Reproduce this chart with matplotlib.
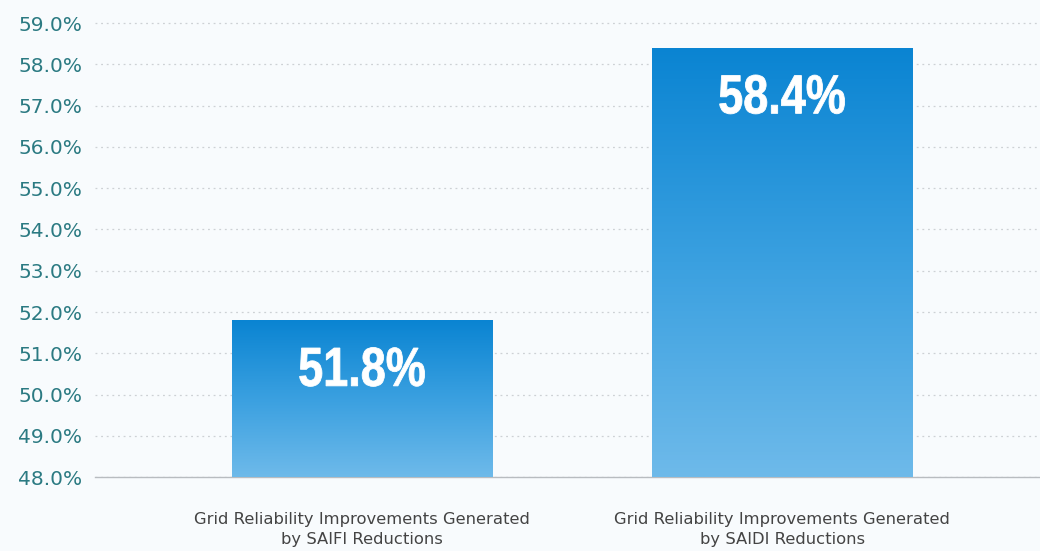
import numpy as np
import matplotlib
matplotlib.use("Agg")
import matplotlib.pyplot as plt
import matplotlib.transforms as mtransforms
from matplotlib.colors import LinearSegmentedColormap
from matplotlib.font_manager import FontProperties
from matplotlib.textpath import TextPath
from matplotlib.patches import PathPatch

# === DATA ===
categories = [
    "Grid Reliability Improvements Generated\nby SAIFI Reductions",
    "Grid Reliability Improvements Generated\nby SAIDI Reductions",
]
values = [51.8, 58.4]
value_labels = ["51.8%", "58.4%"]
y_ticks = [48, 49, 50, 51, 52, 53, 54, 55, 56, 57, 58, 59]

# === STYLE ===
BG = "#f8fbfd"
TICK_COLOR = "#2b7a82"
CAT_COLOR = "#444444"
grad_cmap = LinearSegmentedColormap.from_list("bar_grad", ["#6ebaea", "#3aa0e0", "#0a84d2"])

fig = plt.figure(figsize=(10.4, 5.51), dpi=100, facecolor=BG)
ax = fig.add_axes([0.0913, 0.134, 0.9087, 0.828])
ax.set_facecolor(BG)

x = np.arange(len(categories))
bars = ax.bar(x, values, width=0.62, bottom=0, color="none", edgecolor="none", zorder=3)

# gradient fill clipped to each bar
gradient = np.linspace(0, 1, 256).reshape(-1, 1)
for bar in bars:
    bx, bw, bh = bar.get_x(), bar.get_width(), bar.get_height()
    im = ax.imshow(gradient, cmap=grad_cmap, origin="lower", aspect="auto",
                   extent=[bx, bx + bw, 48, bh], zorder=3)
    im.set_clip_path(bar)

ax.set_xlim(-0.636, 1.614)
ax.set_ylim(48, 59.05)

# value labels inside bars: condensed bold text, built as paths
label_font = FontProperties(family="Liberation Sans", weight="bold")
for xi, v, lab in zip(x, values, value_labels):
    tp = TextPath((0, 0), lab, size=1, prop=label_font)
    ext = tp.get_extents()
    cx, cy = (ext.x0 + ext.x1) / 2, (ext.y0 + ext.y1) / 2
    trans = (mtransforms.Affine2D().translate(-cx, -cy).scale(45, 55)
             + mtransforms.ScaledTranslation(xi, v - 1.13, ax.transData))
    ax.add_patch(PathPatch(tp, transform=trans, facecolor="white",
                           edgecolor="white", linewidth=0.6, zorder=4))

# === AXES ===
ax.set_yticks(y_ticks)
ax.set_yticklabels([f"{t:.1f}%" for t in y_ticks], color=TICK_COLOR,
                   fontsize=14.5, family="DejaVu Sans")
ax.tick_params(axis="y", length=0, pad=9)
ax.set_xticks(x)
ax.set_xticklabels(categories, fontsize=11.8, color=CAT_COLOR, family="DejaVu Sans",
                   linespacing=1.45)
ax.tick_params(axis="x", length=0, pad=25)

ax.grid(True, axis="y", linestyle=(0, (1.5, 3)), color="#cdd1d5", linewidth=0.9, zorder=0)
ax.set_axisbelow(True)
for side in ["top", "right", "left"]:
    ax.spines[side].set_visible(False)
ax.spines["bottom"].set_color("#b8bcc0")
ax.spines["bottom"].set_linewidth(1.0)

plt.savefig("out.png", dpi=100, facecolor=BG)
